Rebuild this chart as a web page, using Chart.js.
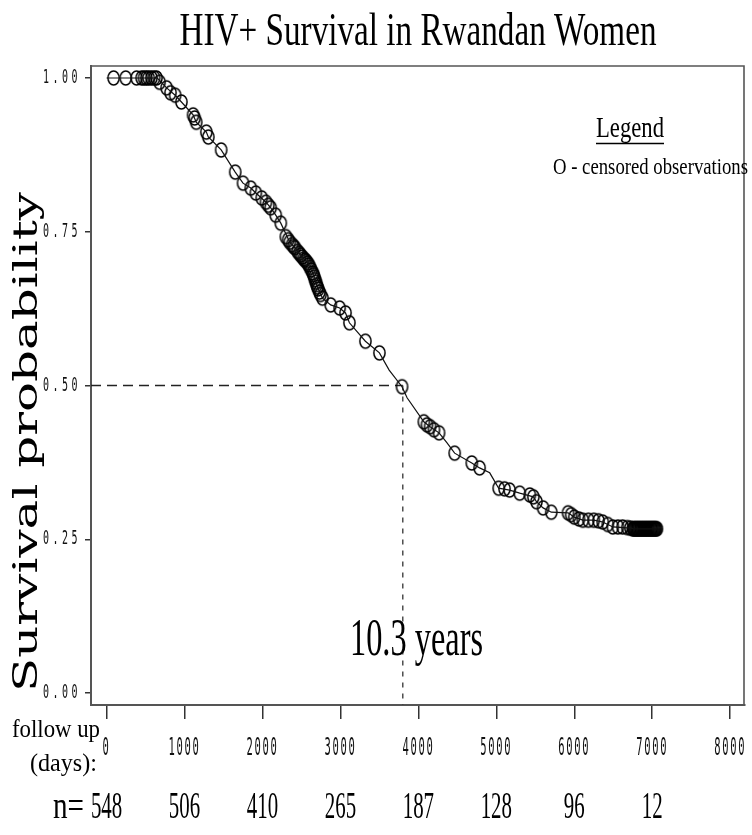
<!DOCTYPE html>
<html>
<head>
<meta charset="utf-8">
<script src="https://cdn.jsdelivr.net/npm/chart.js@4"></script>
<style>
html,body{margin:0;padding:0;background:#fff;}
#wrap{width:752px;height:835px;}
</style>
</head>
<body>
<div id="wrap"><canvas id="c" width="752" height="835"></canvas></div>
<script>
// ---- data ----
const curvePoints = [[0,1],[650,1],[770,0.984],[880,0.972],[960,0.961],[1110,0.94],[1150,0.928],[1280,0.912],[1305,0.904],[1470,0.883],[1650,0.847],[1750,0.829],[1850,0.821],[1915,0.813],[2045,0.798],[2105,0.789],[2170,0.777],[2235,0.764],[2350,0.733],[2415,0.724],[2490,0.712],[2580,0.699],[2645,0.683],[2705,0.66],[2770,0.642],[2875,0.631],[2990,0.626],[3065,0.618],[3115,0.602],[3320,0.572],[3500,0.553],[3625,0.525],[3790,0.498],[3855,0.48],[4070,0.441],[4150,0.433],[4265,0.423],[4365,0.407],[4465,0.39],[4685,0.374],[4785,0.366],[4915,0.358],[5030,0.333],[5170,0.33],[5300,0.325],[5475,0.319],[5515,0.311],[5600,0.301],[5705,0.294],[5920,0.293],[6000,0.286],[6110,0.281],[6250,0.281],[6365,0.278],[6495,0.27],[6720,0.268],[6760,0.267],[7070,0.267]];
const censoredPoints = [[90,1],[245,1],[385,1],[450,1],[480,1],[510,1],[540,1],[575,1],[610,1],[640,1],[680,0.993],[770,0.984],[820,0.976],[880,0.972],[960,0.961],[1110,0.94],[1130,0.935],[1150,0.928],[1280,0.912],[1305,0.904],[1470,0.883],[1650,0.847],[1750,0.829],[1850,0.821],[1915,0.813],[1990,0.805],[2045,0.798],[2075,0.793],[2105,0.789],[2170,0.777],[2235,0.764],[2300,0.742],[2330,0.737],[2350,0.733],[2380,0.729],[2400,0.726],[2415,0.724],[2450,0.718],[2470,0.715],[2490,0.712],[2510,0.709],[2530,0.706],[2545,0.704],[2560,0.702],[2580,0.699],[2595,0.696],[2610,0.692],[2625,0.688],[2645,0.683],[2655,0.68],[2665,0.676],[2675,0.672],[2685,0.668],[2695,0.664],[2705,0.66],[2715,0.657],[2730,0.652],[2745,0.648],[2770,0.642],[2875,0.631],[2990,0.626],[3065,0.618],[3115,0.602],[3320,0.572],[3500,0.553],[3790,0.498],[4070,0.441],[4110,0.436],[4150,0.433],[4200,0.428],[4265,0.423],[4465,0.39],[4685,0.374],[4785,0.366],[5030,0.333],[5105,0.332],[5170,0.33],[5300,0.325],[5430,0.322],[5475,0.319],[5515,0.311],[5600,0.301],[5705,0.294],[5920,0.293],[5960,0.29],[6000,0.286],[6060,0.283],[6110,0.281],[6180,0.281],[6250,0.281],[6310,0.28],[6365,0.278],[6430,0.274],[6495,0.27],[6560,0.27],[6620,0.27],[6680,0.269],[6720,0.268],[6750,0.267],[6760,0.267],[6770,0.267],[6780,0.267],[6790,0.267],[6800,0.267],[6810,0.267],[6820,0.267],[6830,0.267],[6840,0.267],[6850,0.267],[6860,0.267],[6870,0.267],[6880,0.267],[6890,0.267],[6900,0.267],[6910,0.267],[6920,0.267],[6930,0.267],[6940,0.267],[6950,0.267],[6960,0.267],[6970,0.267],[6980,0.267],[6990,0.267],[7000,0.267],[7010,0.267],[7020,0.267],[7030,0.267],[7040,0.267],[7050,0.267],[7060,0.267]];
const xTickValues = [0,1000,2000,3000,4000,5000,6000,7000,8000];
const yTickValues = [0,0.25,0.5,0.75,1];
const yTickLabels = ['0.00','0.25','0.50','0.75','1.00'];
const atRiskCounts = [548,506,410,265,187,128,96,12];
const medianSurvival = 0.5;
const medianDay = 3800;
const titleText = 'HIV+ Survival in Rwandan Women';
const yTitleText = 'Survival probability';

// ---- styling ----
const X_MIN = -200, X_MAX = 8190, Y_MIN = -0.0195, Y_MAX = 1.0195;

function ellipseMarker(){
  const c = document.createElement('canvas');
  c.width = 15; c.height = 18;
  const g = c.getContext('2d');
  g.strokeStyle = '#000'; g.lineWidth = 1.5;
  g.beginPath(); g.ellipse(7.5, 9, 5.6, 7, 0, 0, Math.PI*2); g.stroke();
  return c;
}

function txt(ctx, s, o){
  ctx.save();
  ctx.font = (o.weight||'') + ' ' + o.size + 'px ' + o.family;
  try { ctx.letterSpacing = (o.ls||0) + 'px'; } catch(e){}
  const w = ctx.measureText(s).width;
  const sx = o.width ? o.width / w : (o.sx || 1);
  ctx.translate(o.x, o.y);
  if (o.rot) ctx.rotate(o.rot);
  ctx.scale(sx, 1);
  ctx.textAlign = o.align || 'left';
  ctx.textBaseline = o.baseline || 'alphabetic';
  ctx.fillStyle = o.color || '#000';
  ctx.fillText(s, 0, 0);
  ctx.restore();
}

const SERIF = '"Liberation Serif", "Times New Roman", serif';
const WSERIF = '"DejaVu Serif", "Liberation Serif", serif';
const MONO = '"DejaVu Sans Mono", "Liberation Mono", monospace';

const decor = {
  id: 'decor',
  afterDraw(chart){
    const ctx = chart.ctx, a = chart.chartArea;
    const xs = chart.scales.x, ys = chart.scales.y;
    // frame top & right
    ctx.save();
    ctx.strokeStyle = '#555'; ctx.lineWidth = 1.6;
    ctx.beginPath();
    ctx.moveTo(a.left, a.top); ctx.lineTo(a.right - 1, a.top); ctx.lineTo(a.right - 1, a.bottom);
    ctx.stroke();
    ctx.restore();
    // title
    txt(ctx, titleText, {family: SERIF, size: 46, width: 477, x: (a.left + a.right)/2, y: 45, align: 'center'});
    // y title
    txt(ctx, yTitleText, {family: WSERIF, size: 33, width: 500, x: 37, y: 692, rot: -Math.PI/2, align: 'left'});
    // y tick labels
    yTickValues.forEach((v, i) => {
      txt(ctx, yTickLabels[i], {family: MONO, size: 20, sx: 0.5, ls: 7, x: 81, y: ys.getPixelForValue(v), align: 'right', baseline: 'middle', color: '#111'});
    });
    // x tick labels
    xTickValues.forEach(v => {
      txt(ctx, String(v), {family: MONO, size: 25, sx: 0.42, ls: 4, x: xs.getPixelForValue(v), y: 748, align: 'center', baseline: 'middle', color: '#111'});
    });
    // follow up (days):
    txt(ctx, 'follow up', {family: SERIF, size: 25, width: 88, x: 100, y: 737, align: 'right'});
    txt(ctx, '(days):', {family: SERIF, size: 25, width: 67, x: 97, y: 771, align: 'right'});
    // n at risk
    txt(ctx, 'n=', {family: SERIF, size: 38, width: 31, x: 53, y: 818, align: 'left'});
    atRiskCounts.forEach((n, i) => {
      txt(ctx, String(n), {family: SERIF, size: 38, sx: 0.55, x: xs.getPixelForValue(xTickValues[i]), y: 818, align: 'center'});
    });
    // legend
    txt(ctx, 'Legend', {family: SERIF, size: 30, width: 68, x: 630, y: 137, align: 'center'});
    ctx.save(); ctx.strokeStyle = '#000'; ctx.lineWidth = 1.4;
    ctx.beginPath(); ctx.moveTo(596, 143.5); ctx.lineTo(664, 143.5); ctx.stroke(); ctx.restore();
    txt(ctx, 'O - censored observations', {family: SERIF, size: 24, width: 195, x: 553, y: 174, align: 'left'});
    // median annotation
    txt(ctx, '10.3 years', {family: SERIF, size: 52, width: 133, x: 350, y: 655, align: 'left'});
  }
};

const marker = ellipseMarker();

new Chart(document.getElementById('c'), {
  type: 'scatter',
  data: {
    datasets: [
      {
        type: 'line',
        data: curvePoints.map(p => ({x: p[0], y: p[1]})),
        borderColor: '#111', borderWidth: 1.2, pointRadius: 0, tension: 0, fill: false, clip: false
      },
      {
        data: censoredPoints.map(p => ({x: p[0], y: p[1]})),
        pointStyle: marker, pointRadius: 6, clip: false
      },
      {
        type: 'line',
        data: [{x: X_MIN, y: medianSurvival}, {x: medianDay, y: medianSurvival}],
        borderColor: '#222', borderWidth: 1.3, borderDash: [10, 6], pointRadius: 0, fill: false
      },
      {
        type: 'line',
        data: [{x: medianDay, y: medianSurvival}, {x: medianDay, y: Y_MIN}],
        borderColor: '#333', borderWidth: 1.3, borderDash: [5, 6], pointRadius: 0, fill: false
      }
    ]
  },
  options: {
    responsive: false,
    animation: false,
    events: [],
    layout: {padding: {top: 66, right: 2, left: 0, bottom: 0}},
    plugins: {legend: {display: false}, tooltip: {enabled: false}, title: {display: false}},
    scales: {
      x: {
        type: 'linear', min: X_MIN, max: X_MAX,
        afterBuildTicks: s => { s.ticks = xTickValues.map(v => ({value: v})); },
        afterFit: s => { s.height = 130; },
        ticks: {display: false},
        grid: {drawOnChartArea: false, drawTicks: true, tickLength: 14, color: '#333', lineWidth: 1.5},
        border: {display: true, color: '#555', width: 2}
      },
      y: {
        type: 'linear', min: Y_MIN, max: Y_MAX,
        afterBuildTicks: s => { s.ticks = yTickValues.map(v => ({value: v})); },
        afterFit: s => { s.width = 91; },
        ticks: {display: false},
        grid: {drawOnChartArea: false, drawTicks: true, tickLength: 6, color: '#333', lineWidth: 1.5},
        border: {display: true, color: '#555', width: 2}
      }
    }
  },
  plugins: [decor]
});
</script>
</body>
</html>
